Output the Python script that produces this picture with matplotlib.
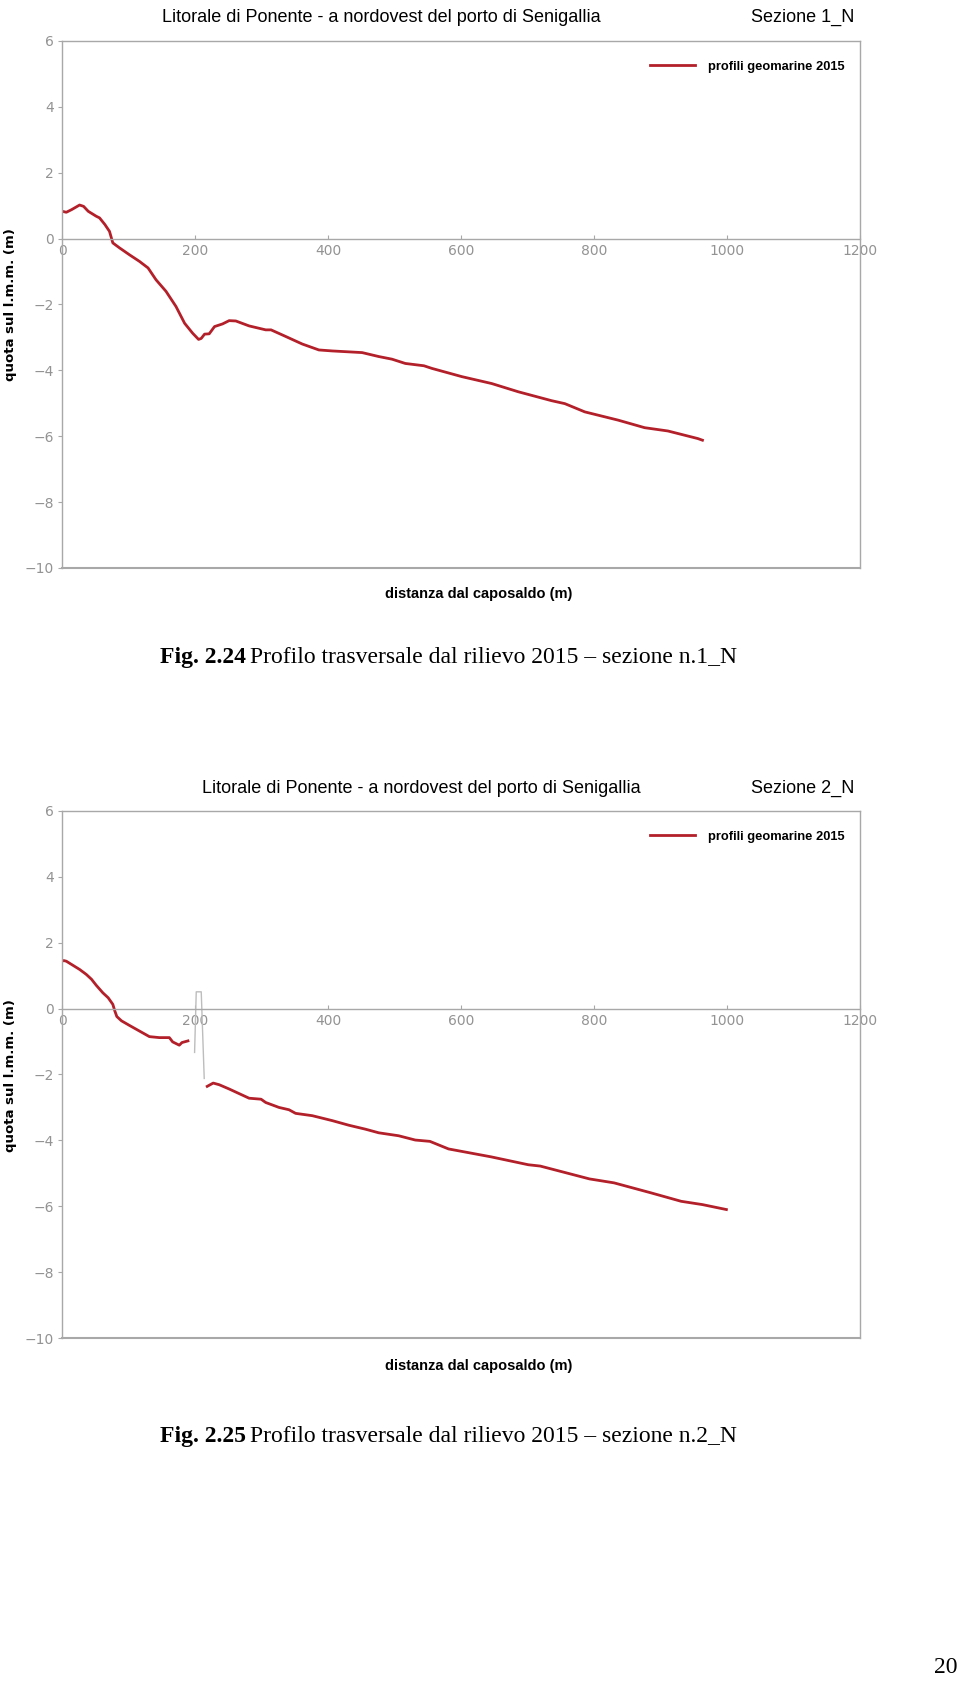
import matplotlib
matplotlib.use("Agg")
import matplotlib.pyplot as plt

# profile 1_N (distance m, elevation m)
sez1_x = [0, 6, 14, 26, 32, 39, 51, 56, 64, 71, 76, 86, 101, 116, 129, 141, 156, 171, 184, 196,
          205, 209, 214, 221, 229, 241, 251, 261, 281, 306, 314, 336, 361, 386, 406, 451, 476,
          496, 516, 544, 556, 601, 646, 686, 736, 756, 786, 836, 876, 911, 956, 963]
sez1_y = [0.83, 0.80, 0.88, 1.02, 0.98, 0.83, 0.68, 0.63, 0.43, 0.22, -0.13, -0.28, -0.49, -0.69,
          -0.89, -1.25, -1.60, -2.06, -2.57, -2.87, -3.06, -3.03, -2.90, -2.89, -2.67, -2.59,
          -2.49, -2.50, -2.65, -2.77, -2.77, -2.97, -3.20, -3.38, -3.41, -3.46, -3.58, -3.66,
          -3.79, -3.86, -3.94, -4.19, -4.40, -4.65, -4.92, -5.01, -5.26, -5.51, -5.74, -5.84,
          -6.07, -6.12]

# profile 2_N, two red stretches and the grey jetty outline
sez2a_x = [0, 2, 6, 14, 26, 36, 44, 51, 61, 69, 76, 79, 82, 89, 101, 116, 131, 146, 161, 166,
           176, 180, 189]
sez2a_y = [1.44, 1.46, 1.44, 1.34, 1.19, 1.04, 0.89, 0.71, 0.48, 0.33, 0.13, -0.07, -0.24, -0.37,
           -0.51, -0.68, -0.85, -0.88, -0.88, -1.01, -1.11, -1.03, -0.98]
sez2b_x = [218, 227, 236, 251, 266, 281, 299, 306, 326, 341, 351, 376, 406, 431, 456, 476, 506,
           531, 553, 581, 645, 701, 719, 793, 830, 885, 931, 963, 999]
sez2b_y = [-2.36, -2.26, -2.31, -2.44, -2.58, -2.72, -2.75, -2.85, -3.00, -3.07, -3.18, -3.25,
           -3.40, -3.54, -3.66, -3.77, -3.86, -3.99, -4.03, -4.26, -4.50, -4.74, -4.78, -5.17,
           -5.29, -5.59, -5.85, -5.95, -6.10]
molo_x = [199, 201.5, 209, 213.5]
molo_y = [-1.33, 0.51, 0.51, -2.12]

x_ticks = [0, 200, 400, 600, 800, 1000, 1200]
y_ticks = [6, 4, 2, 0, -2, -4, -6, -8, -10]
titolo = "Litorale di Ponente - a nordovest del porto di Senigallia"
legenda = "profili geomarine 2015"

W, H = 960, 1694
RED = "#b3202a"
GREY = "#a8a8a8"
TICK = "#939393"
SANS = ["Liberation Sans", "DejaVu Sans"]

fig = plt.figure(figsize=(W / 100, H / 100), dpi=100)


def fx(px):
    return px / W


def fy(py):
    return 1 - py / H


def make_axes(top_px):
    left, right, bottom_px = 62.3, 860, top_px + 527
    ax = fig.add_axes([fx(left), fy(bottom_px), fx(right - left), (bottom_px - top_px) / H])
    ax.set_xlim(0, 1200)
    ax.set_ylim(-10, 6)
    ax.spines["bottom"].set_position(("data", 0))
    for s in ax.spines.values():
        s.set_color(GREY)
        s.set_linewidth(1)
    ax.axhline(-10, color=GREY, lw=1.5, clip_on=False)
    ax.set_xticks(x_ticks)
    ax.set_yticks(y_ticks)
    ax.set_yticklabels([str(v).replace("-", "\u2212") for v in y_ticks])
    ax.tick_params(axis="x", direction="in", length=3, color=GREY, labelcolor=TICK,
                   labelsize=10, pad=4)
    ax.tick_params(axis="y", direction="out", length=3, color=GREY, labelcolor=TICK,
                   labelsize=10, pad=3)
    return ax


def legend_line(ax):
    ax.legend(loc="center right", bbox_to_anchor=(0.995, 0.951), frameon=False,
              handlelength=3.5, handletextpad=1.0,
              prop={"family": SANS, "weight": "bold", "size": 9.3})


def caption(y_px, num, sez):
    r = fig.canvas.get_renderer()
    t1 = fig.text(fx(160), fy(y_px), "Fig. " + num, family="Liberation Serif",
                  weight="bold", fontsize=17, va="center", ha="left")
    bb = t1.get_window_extent(renderer=r)
    fig.text(bb.x1 / W + 0.004, fy(y_px),
             "Profilo trasversale dal rilievo 2015 \u2013 sezione n." + sez,
             family="Liberation Serif", fontsize=17, va="center", ha="left")


# ---- chart 1
ax1 = make_axes(41)
ax1.plot(sez1_x, sez1_y, color=RED, lw=2.0, label=legenda)
legend_line(ax1)
fig.text(fx(381), fy(17), titolo, family=SANS, fontsize=13, ha="center", va="center")
fig.text(fx(803), fy(17), "Sezione 1_N", family=SANS, fontsize=13, ha="center", va="center")
fig.text(fx(479), fy(594), "distanza dal caposaldo (m)", family=SANS, weight="bold",
         fontsize=10.5, ha="center", va="center")
fig.text(fx(11), fy(305), "quota sul l.m.m. (m)", family="DejaVu Sans", weight="bold",
         fontsize=9.5, rotation=90, ha="center", va="center")

# ---- chart 2
ax2 = make_axes(811)
ax2.plot(sez2a_x, sez2a_y, color=RED, lw=2.0, label=legenda)
ax2.plot(sez2b_x, sez2b_y, color=RED, lw=2.0)
ax2.plot(molo_x, molo_y, color="#bdbdbd", lw=1)
legend_line(ax2)
fig.text(fx(421), fy(788), titolo, family=SANS, fontsize=13, ha="center", va="center")
fig.text(fx(803), fy(788), "Sezione 2_N", family=SANS, fontsize=13, ha="center", va="center")
fig.text(fx(479), fy(1366), "distanza dal caposaldo (m)", family=SANS, weight="bold",
         fontsize=10.5, ha="center", va="center")
fig.text(fx(11), fy(1076), "quota sul l.m.m. (m)", family="DejaVu Sans", weight="bold",
         fontsize=9.5, rotation=90, ha="center", va="center")

caption(657, "2.24", "1_N")
caption(1436, "2.25", "2_N")
fig.text(fx(946), fy(1667), "20", family="Liberation Serif", fontsize=17, ha="center",
         va="center")

fig.savefig("out.png", dpi=100, facecolor="white")
